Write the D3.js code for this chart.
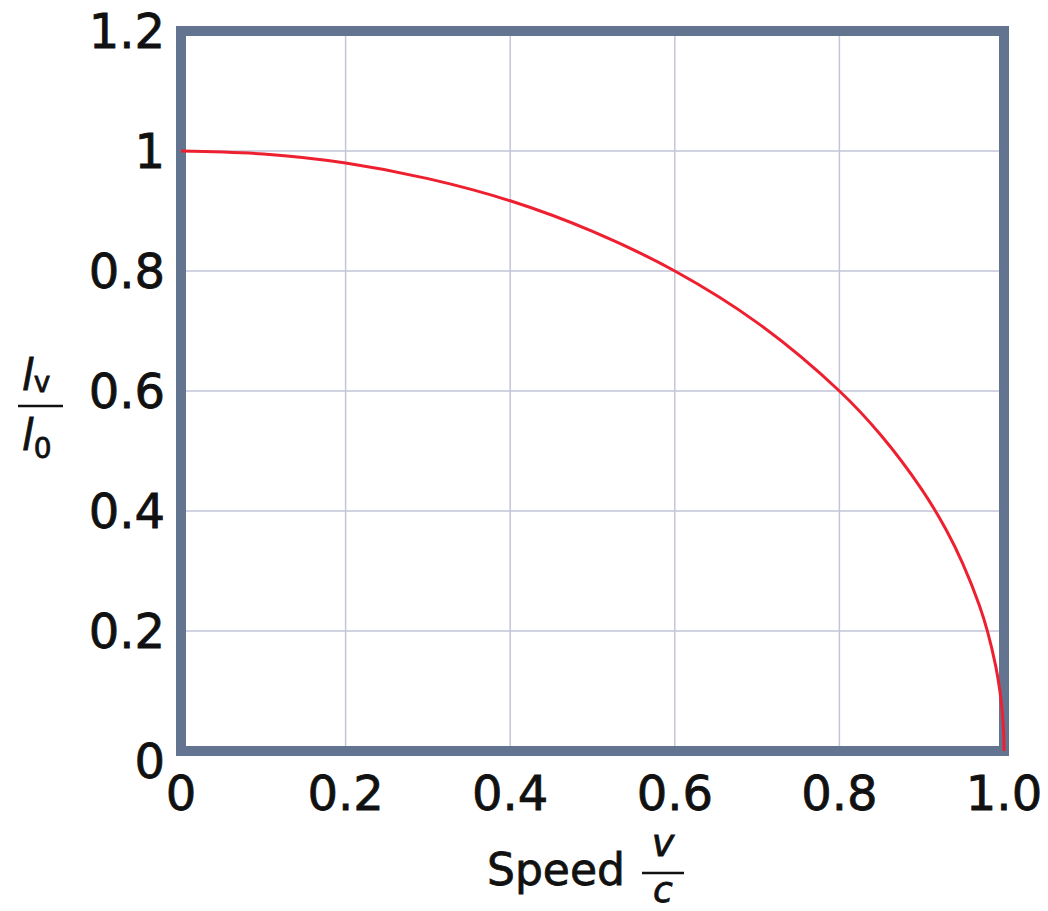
<!DOCTYPE html>
<html>
<head>
<meta charset="utf-8">
<script src="https://cdn.jsdelivr.net/npm/d3@7"></script>
<style>
  body { margin: 0; background: #fff; }
  text { font-family: "DejaVu Sans", sans-serif; fill: #111; stroke: #111; stroke-width: 0.8px; }
</style>
</head>
<body>
<svg width="1048" height="911"></svg>
<script>
// speed v/c and relative length l_v/l_0
var speed  = [0, 0.1, 0.2, 0.3, 0.4, 0.5, 0.6, 0.7, 0.8, 0.85, 0.9, 0.93, 0.95, 0.97, 0.98, 0.99, 0.995, 0.998, 0.9995, 1];
var length = [1, 0.995, 0.98, 0.954, 0.917, 0.866, 0.8, 0.714, 0.6, 0.527, 0.436, 0.368, 0.312, 0.243, 0.199, 0.141, 0.1, 0.063, 0.032, 0];

var xTicks = [0, 0.2, 0.4, 0.6, 0.8, 1.0];
var xLabels = ['0', '0.2', '0.4', '0.6', '0.8', '1.0'];
var yTicks = [0, 0.2, 0.4, 0.6, 0.8, 1, 1.2];
var yLabels = ['0', '0.2', '0.4', '0.6', '0.8', '1', '1.2'];

var svg = d3.select('svg');

var x = d3.scaleLinear().domain([0, 1]).range([181, 1004]);
var y = d3.scaleLinear().domain([0, 1.2]).range([751, 31]);

// grid
svg.append('g').selectAll('line').data(xTicks.slice(1, -1)).enter()
    .append('line')
    .attr('x1', function(d) { return x(d); })
    .attr('x2', function(d) { return x(d); })
    .attr('y1', y(0)).attr('y2', y(1.2))
    .attr('stroke', '#c3c5d9').attr('stroke-width', 1.5);

svg.append('g').selectAll('line').data(yTicks.slice(1, -1)).enter()
    .append('line')
    .attr('y1', function(d) { return y(d); })
    .attr('y2', function(d) { return y(d); })
    .attr('x1', x(0)).attr('x2', x(1))
    .attr('stroke', '#c3c5d9').attr('stroke-width', 1.5);

// frame
svg.append('rect')
    .attr('x', x(0)).attr('y', y(1.2))
    .attr('width', x(1) - x(0)).attr('height', y(0) - y(1.2))
    .attr('fill', 'none')
    .attr('stroke', '#627490').attr('stroke-width', 10);

// curve
var line = d3.line()
    .x(function(d) { return x(d[0]); })
    .y(function(d) { return y(d[1]); })
    .curve(d3.curveCatmullRom.alpha(0.5));

svg.append('path')
    .datum(d3.zip(speed, length))
    .attr('d', line)
    .attr('fill', 'none')
    .attr('stroke', '#ee2030')
    .attr('stroke-width', 3);

// tick labels
svg.append('g').selectAll('text').data(xTicks).enter()
    .append('text')
    .attr('x', function(d) { return x(d); })
    .attr('y', 810)
    .attr('text-anchor', 'middle')
    .attr('font-size', 48)
    .text(function(d, i) { return xLabels[i]; });

svg.append('g').selectAll('text').data(yTicks).enter()
    .append('text')
    .attr('x', 165)
    .attr('y', function(d) { return d === 0 ? y(d) + 27 : y(d) + 17; })
    .attr('text-anchor', 'end')
    .attr('font-size', 48)
    .text(function(d, i) { return yLabels[i]; });

// x axis title: Speed v/c
svg.append('text')
    .attr('x', 487).attr('y', 885)
    .attr('font-size', 44)
    .text('Speed');
svg.append('text')
    .attr('x', 663).attr('y', 856)
    .attr('text-anchor', 'middle')
    .attr('font-size', 38).attr('font-style', 'italic')
    .text('v');
svg.append('line')
    .attr('x1', 642).attr('x2', 684).attr('y1', 873).attr('y2', 873)
    .attr('stroke', '#111').attr('stroke-width', 2.5);
svg.append('text')
    .attr('x', 663).attr('y', 902)
    .attr('text-anchor', 'middle')
    .attr('font-size', 36).attr('font-style', 'italic')
    .text('c');

// y axis title: l_v / l_0
var num = svg.append('text').attr('x', 22).attr('y', 390).attr('font-size', 42);
num.append('tspan').attr('font-style', 'italic').text('l');
num.append('tspan').attr('font-size', 28).attr('dy', 2).text('v');
svg.append('line')
    .attr('x1', 18).attr('x2', 63).attr('y1', 406).attr('y2', 406)
    .attr('stroke', '#111').attr('stroke-width', 2.5);
var den = svg.append('text').attr('x', 22).attr('y', 450).attr('font-size', 42);
den.append('tspan').attr('font-style', 'italic').text('l');
den.append('tspan').attr('font-size', 28).attr('dy', 8).text('0');
</script>
</body>
</html>
